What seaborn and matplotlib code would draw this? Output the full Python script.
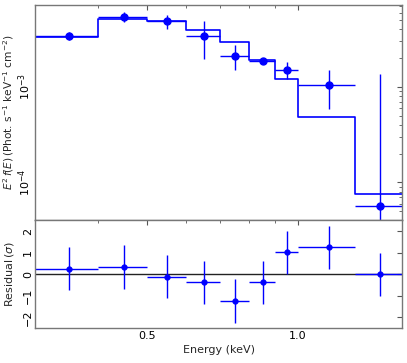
import numpy as np
import seaborn as sns
import matplotlib.pyplot as plt
from matplotlib.ticker import FixedLocator, FixedFormatter, NullFormatter, LogLocator

# energy bins (keV)
e_lo = [0.3, 0.4, 0.5, 0.6, 0.7, 0.8, 0.9, 1.0, 1.3]
e_hi = [0.4, 0.5, 0.6, 0.7, 0.8, 0.9, 1.0, 1.3, 1.61]
# unfolded spectrum E^2 f(E)
flux = [3.41e-3, 5.44e-3, 4.87e-3, 3.44e-3, 2.13e-3, 1.88e-3, 1.51e-3, 1.05e-3, 5.7e-5]
flux_err = [0.33e-3, 0.6e-3, 0.85e-3, 1.5e-3, 0.63e-3, 0.15e-3, 0.3e-3, 0.46e-3, 1.31e-3]
model = [3.36e-3, 5.18e-3, 4.94e-3, 3.97e-3, 2.94e-3, 1.92e-3, 1.21e-3, 4.9e-4, 7.6e-5]
# residuals in sigma
resid = [0.25, 0.34, -0.12, -0.37, -1.24, -0.37, 1.03, 1.26, 0.0]
resid_err = [1, 1, 1, 1, 1, 1, 1, 1, 1]

sns.set_style("white")
plt.rcParams["font.family"] = ["DejaVu Sans"]
plt.rcParams["font.size"] = 8

e_lo_a = np.array(e_lo)
e_hi_a = np.array(e_hi)
e_mid = (e_lo_a + e_hi_a) / 2
xerr = [e_mid - e_lo_a, e_hi_a - e_mid]

fig, (ax, axr) = plt.subplots(2, 1, sharex=True, figsize=(4.07, 3.63), dpi=100,
                              gridspec_kw={"height_ratios": [2, 1], "hspace": 0})
fig.subplots_adjust(left=0.086, right=0.988, top=0.986, bottom=0.096)

# model as a step line
step_x = list(e_lo) + [e_hi[-1]]
step_y = list(model) + [model[-1]]
sns.lineplot(x=step_x, y=step_y, drawstyle="steps-post", color="blue", lw=1.2,
             estimator=None, sort=False, ax=ax)

ax.errorbar(e_mid, flux, xerr=xerr, yerr=flux_err, fmt="o", color="blue",
            ms=5, lw=1, capsize=0)

ax.set_xscale("log")
ax.set_yscale("log")
ax.set_xlim(0.3, 1.61)
ax.set_ylim(4.0e-5, 7.2e-3)
ax.set_ylabel(r"$E^2\,f(E)\,$(Phot. s$^{-1}$ keV$^{-1}$ cm$^{-2}$)", fontsize=7.6)

# residual panel
axr.axhline(0, color="#222222", lw=1)
axr.errorbar(e_mid, resid, xerr=xerr, yerr=resid_err, fmt="o", color="blue",
             ms=3.5, lw=1, capsize=0)
axr.set_ylim(-2.5, 2.5)
axr.set_yticks([-2, -1, 0, 1, 2])
axr.set_ylabel(r"Residual$\,(\sigma)$")
axr.set_xlabel("Energy (keV)", labelpad=3)

for a in (ax, axr):
    a.xaxis.set_major_locator(FixedLocator([0.5, 1.0]))
    a.xaxis.set_major_formatter(FixedFormatter(["0.5", "1.0"]))
    a.xaxis.set_minor_locator(FixedLocator([0.3, 0.4, 0.6, 0.7, 0.8, 0.9]))
    a.xaxis.set_minor_formatter(NullFormatter())
    a.tick_params(which="both", direction="in", top=True, right=True, colors="#555555",
                  labelcolor="black")
    a.tick_params(which="major", length=3.5)
    a.tick_params(which="minor", length=2)
    a.tick_params(axis="y", which="both", labelrotation=90, pad=1.5)
    a.tick_params(axis="x", which="both", pad=2)
    for s in a.spines.values():
        s.set_color("#777777")
        s.set_linewidth(1)
    for lbl in a.get_yticklabels():
        lbl.set_va("center")
    a.yaxis.set_label_coords(-0.052, 0.5)

ax.yaxis.set_minor_locator(LogLocator(subs=np.arange(2, 10)))
ax.tick_params(labelbottom=False)

plt.savefig("out.png", dpi=100)
